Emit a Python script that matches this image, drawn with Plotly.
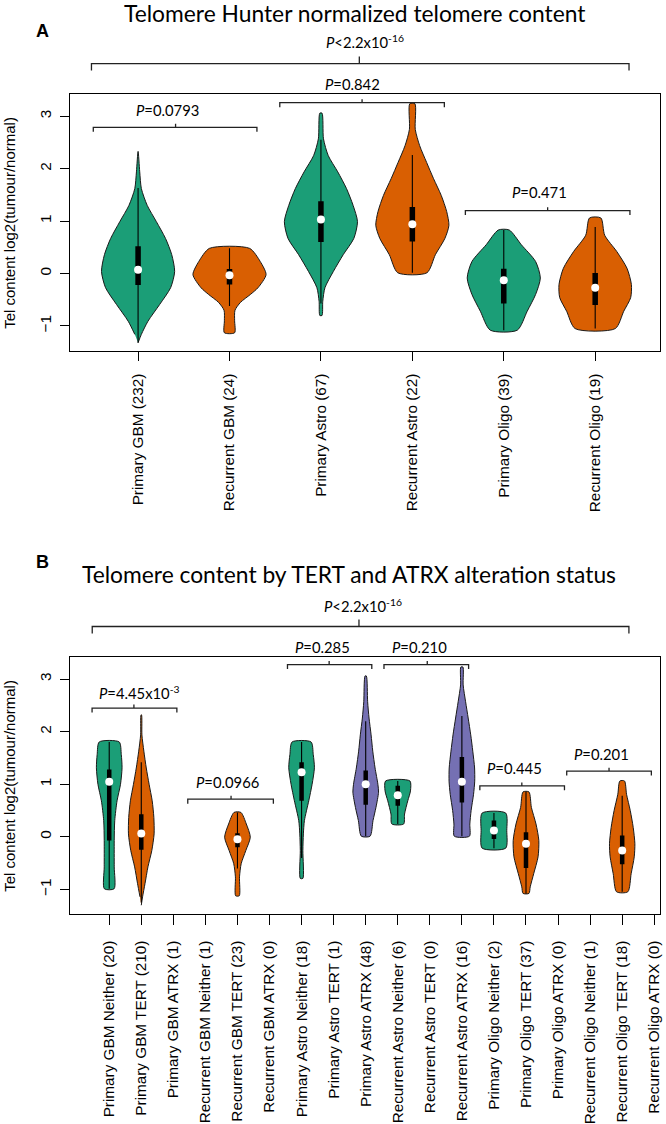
import plotly.graph_objects as go

# page is 666x1124; the body margin is removed in the page (see write_html below)
W, H = 666, 1124

# ---------------- Panel A data ----------------
A_labels = ["Primary GBM (232)", "Recurrent GBM (24)", "Primary Astro (67)",
            "Recurrent Astro (22)", "Primary Oligo (39)", "Recurrent Oligo (19)"]
A_group = ["Primary", "Recurrent", "Primary", "Recurrent", "Primary", "Recurrent"]
# density outline: value levels (bottom -> top) and relative density at each level
A_dens_y = [
    [-1.32, -1.16, -0.91, -0.59, -0.27, 0.04, 0.36, 0.67, 0.99, 1.30, 1.62, 1.94, 2.33],
    [-1.13, -0.90, -0.70, -0.55, -0.40, -0.27, -0.02, 0.23, 0.48],
    [-0.80, -0.53, -0.27, 0.04, 0.36, 0.67, 0.99, 1.30, 1.62, 1.94, 2.25, 2.57, 3.06],
    [0.015, 0.36, 0.67, 0.92, 1.18, 1.49, 1.81, 2.12, 2.44, 2.75, 3.24],
    [-1.08, -0.72, -0.40, -0.085, 0.23, 0.55, 0.83],
    [-1.05, -0.72, -0.46, -0.21, 0.10, 0.42, 0.73, 1.06],
]
A_dens_w = [
    [0, 0.09, 0.27, 0.59, 0.89, 1.0, 0.92, 0.75, 0.50, 0.25, 0.09, 0.045, 0],
    [0.14, 0.14, 0.15, 0.30, 0.57, 0.78, 1.0, 0.84, 0.55],
    [0.03, 0.05, 0.11, 0.34, 0.61, 0.90, 1.0, 0.88, 0.70, 0.46, 0.20, 0.07, 0.03],
    [0.40, 0.63, 0.89, 1.0, 0.94, 0.79, 0.58, 0.39, 0.20, 0.08, 0.07],
    [0.37, 0.64, 0.87, 1.0, 0.87, 0.48, 0.15],
    [0.55, 0.78, 0.97, 0.99, 0.87, 0.59, 0.26, 0.155],
]
A_q1 = [-0.22, -0.21, 0.60, 0.61, -0.57, -0.60]
A_med = [0.07, -0.035, 1.03, 0.94, -0.13, -0.27]
A_q3 = [0.52, 0.085, 1.38, 1.27, 0.09, 0.01]
A_wlo = [-1.32, -0.62, -0.57, 0.015, -1.08, -1.05]
A_whi = [1.63, 0.48, 2.55, 2.26, 0.83, 0.89]

A_p_text = ["<i>P</i>=0.0793", "<i>P</i>=0.842", "<i>P</i>=0.471",
            "<i>P</i>&lt;2.2x10<sup>-16</sup>"]
A_br_left = [0.51, 2.55, 4.58, 0.49]
A_br_right = [2.30, 4.35, 6.38, 6.37]
A_br_mid = [1.41, 3.45, 5.48, 3.42]
A_br_y = [2.79, 3.26, 1.20, 4.006]
A_txt_x = [1.32, 3.34, 5.39, 3.48]
A_txt_y = [3.12, 3.61, 1.557, 4.43]

# ---------------- Panel B data ----------------
B_labels = ["Primary GBM Neither (20)", "Primary GBM TERT (210)", "Primary GBM ATRX (1)",
            "Recurrent GBM Neither (1)", "Recurrent GBM TERT (23)", "Recurrent GBM ATRX (0)",
            "Primary Astro Neither (18)", "Primary Astro TERT (1)", "Primary Astro ATRX (48)",
            "Recurrent Astro Neither (6)", "Recurrent Astro TERT (0)", "Recurrent Astro ATRX (16)",
            "Primary Oligo Neither (2)", "Primary Oligo TERT (37)", "Primary Oligo ATRX (0)",
            "Recurrent Oligo Neither (1)", "Recurrent Oligo TERT (18)", "Recurrent Oligo ATRX (0)"]
B_group = ["Neither", "TERT", "ATRX"] * 6
B_dens_y = [
    [-0.987, -0.57, -0.07, 0.308, 0.686, 1.0, 1.314, 1.566, 1.805],
    [-1.30, -1.14, -0.89, -0.57, -0.26, 0.057, 0.37, 0.686, 1.0, 1.31, 1.63, 1.94, 2.32],
    [], [],
    [-1.12, -0.76, -0.51, -0.26, -0.006, 0.245, 0.465],
    [],
    [-0.79, -0.26, 0.057, 0.308, 0.686, 1.0, 1.314, 1.566, 1.805],
    [],
    [0.013, 0.31, 0.56, 0.85, 1.0, 1.31, 1.63, 1.94, 2.26, 2.57, 3.06],
    [0.245, 0.434, 0.686, 0.874, 1.063],
    [],
    [0.013, 0.245, 0.50, 0.81, 1.06, 1.31, 1.63, 1.94, 2.26, 2.57, 2.89, 3.23],
    [-0.214, 0.12, 0.453],
    [-1.075, -0.95, -0.70, -0.38, -0.07, 0.245, 0.56, 0.855],
    [], [],
    [-1.044, -0.70, -0.38, -0.13, 0.18, 0.50, 0.81, 1.063],
    [],
]
B_dens_w = [
    [0.38, 0.39, 0.39, 0.43, 0.61, 0.88, 1.0, 0.94, 0.78],
    [0, 0.10, 0.29, 0.52, 0.82, 1.0, 0.98, 0.85, 0.61, 0.39, 0.20, 0.05, 0.02],
    [], [],
    [0.14, 0.16, 0.29, 0.65, 1.0, 0.69, 0.27],
    [],
    [0.10, 0.10, 0.14, 0.22, 0.56, 0.82, 1.0, 0.91, 0.74],
    [],
    [0.34, 0.57, 0.80, 1.0, 0.95, 0.73, 0.55, 0.42, 0.26, 0.15, 0.05],
    [0.46, 0.53, 0.78, 0.99, 0.95],
    [],
    [0.59, 0.62, 0.72, 0.91, 1.0, 0.99, 0.85, 0.69, 0.49, 0.29, 0.10, 0.08],
    [0.92, 1.0, 0.92],
    [0.23, 0.33, 0.60, 0.94, 1.0, 0.78, 0.42, 0.23],
    [], [],
    [0.44, 0.70, 0.94, 0.99, 0.86, 0.63, 0.34, 0.18],
    [],
]
B_q1 = [-0.07, -0.245, None, None, -0.195, None, 0.686, None, 0.61, 0.59, None, 0.654,
        -0.04, -0.59, None, None, -0.52, None]
B_med = [1.05, 0.063, None, None, -0.044, None, 1.23, None, 1.0, 0.79, None, 1.05,
         0.12, -0.13, None, None, -0.26, None]
B_q3 = [1.28, 0.43, None, None, 0.07, None, 1.42, None, 1.26, 0.97, None, 1.52,
        0.31, 0.088, None, None, 0.025, None]
B_wlo = [-0.987, -1.25, None, None, -0.60, None, -0.40, None, 0.013, 0.245, None, 0.013,
         -0.214, -1.075, None, None, -1.044, None]
B_whi = [1.805, 1.42, None, None, 0.465, None, 1.805, None, 2.20, 1.063, None, 2.30,
         0.453, 0.855, None, None, 0.78, None]

B_p_text = ["<i>P</i>=4.45x10<sup>-3</sup>", "<i>P</i>=0.0966", "<i>P</i>=0.285",
            "<i>P</i>=0.210", "<i>P</i>=0.445", "<i>P</i>=0.201",
            "<i>P</i>&lt;2.2x10<sup>-16</sup>"]
B_br_left = [0.465, 3.45, 6.56, 9.57, 12.56, 15.27, 0.47]
B_br_right = [3.11, 6.12, 9.19, 12.21, 15.20, 17.91, 17.21]
B_br_mid = [1.77, 4.80, 7.86, 10.92, 13.87, 16.59, 8.79]
B_br_y = [2.45, 0.717, 3.277, 3.277, 0.97, 1.25, 4.0]
B_txt_x = [1.95, 4.69, 7.65, 10.68, 13.65, 16.36, 8.92]
B_txt_y = [2.75, 1.04, 3.61, 3.61, 1.315, 1.58, 4.40]

# ---------------- styling ----------------
COLORS = {"Primary": "#1b9e77", "Recurrent": "#d95f02",
          "Neither": "#1b9e77", "TERT": "#d95f02", "ATRX": "#7570b3"}
HALF_W = 0.4
TICK_FONT = dict(family="Liberation Sans, Arial, sans-serif", size=15.3, color="black")
ANNO_FONT = "Lato, Open Sans, sans-serif"


def px_x(px):
    return px / W


def px_y(py):
    return 1 - py / H


PANELS = {
    "A": dict(xref="x", yref="y", xrange=[0.253, 6.709], yrange=[-1.487, 3.419],
              ydom=[px_y(354), px_y(95)], box_w=5.5),
    "B": dict(xref="x2", yref="y2", xrange=[-0.23, 18.18], yrange=[-1.475, 3.415],
              ydom=[px_y(921), px_y(662)], box_w=4.5),
}
XDOM = [px_x(70), px_x(662)]


def to_paper(v, p):
    r, d = p["yrange"], p["ydom"]
    return d[0] + (v - r[0]) / (r[1] - r[0]) * (d[1] - d[0])


fig = go.Figure()
shapes, annos = [], []


def add_panel(key, labels, groups, dys, dws, q1, med, q3, wlo, whi,
              ptxt, bl, br, bm, by, tx, ty):
    p = PANELS[key]
    xa, ya = p["xref"], p["yref"]
    for i, lab in enumerate(labels):
        pos = i + 1
        yl, wl = dys[i], dws[i]
        if not yl:
            continue
        col = COLORS[groups[i]]
        xs = [pos + HALF_W * w for w in wl]
        ys = list(yl)
        for yv, w in zip(reversed(yl), reversed(wl)):
            if w == 0:
                continue
            xs.append(pos - HALF_W * w)
            ys.append(yv)
        if wl[0] != 0:
            xs.append(xs[0])
            ys.append(ys[0])
        fig.add_trace(go.Scatter(x=xs, y=ys, mode="lines", fill="toself", fillcolor=col,
                                 line=dict(color="#1a1a1a", width=1, shape="spline", smoothing=0.7),
                                 hoverinfo="skip", xaxis=xa, yaxis=ya))
        fig.add_trace(go.Scatter(x=[pos, pos], y=[wlo[i], whi[i]], mode="lines",
                                 line=dict(color="black", width=1.1),
                                 hoverinfo="skip", xaxis=xa, yaxis=ya))
        fig.add_trace(go.Scatter(x=[pos, pos], y=[q1[i], q3[i]], mode="lines",
                                 line=dict(color="black", width=p["box_w"]),
                                 hoverinfo="skip", xaxis=xa, yaxis=ya))
        fig.add_trace(go.Scatter(x=[pos], y=[med[i]], mode="markers",
                                 marker=dict(color="white", size=8, line=dict(width=0)),
                                 hoverinfo="skip", xaxis=xa, yaxis=ya))
    n = len(ptxt)
    for j in range(n):
        big = (j == n - 1)
        drop = (7.0 if big else 4.5) / H
        up = (7.0 if big else 3.5) / H
        yb = to_paper(by[j], p)
        path = (f"M {bl[j]},{yb - drop} L {bl[j]},{yb} L {br[j]},{yb} L {br[j]},{yb - drop} "
                f"M {bm[j]},{yb} L {bm[j]},{yb + up}")
        shapes.append(dict(type="path", path=path, xref=xa, yref="paper",
                           line=dict(color="#222222", width=1.3)))
        annos.append(dict(text=ptxt[j], x=tx[j], y=to_paper(ty[j], p), xref=xa, yref="paper",
                          showarrow=False, xanchor="center", yanchor="middle",
                          font=dict(family=ANNO_FONT, size=14.8, color="black")))


add_panel("A", A_labels, A_group, A_dens_y, A_dens_w, A_q1, A_med, A_q3, A_wlo, A_whi,
          A_p_text, A_br_left, A_br_right, A_br_mid, A_br_y, A_txt_x, A_txt_y)
add_panel("B", B_labels, B_group, B_dens_y, B_dens_w, B_q1, B_med, B_q3, B_wlo, B_whi,
          B_p_text, B_br_left, B_br_right, B_br_mid, B_br_y, B_txt_x, B_txt_y)

# titles, panel letters, y titles
annos += [
    dict(text="Telomere Hunter normalized telomere content", x=px_x(356), y=px_y(13),
         xref="paper", yref="paper", showarrow=False, xanchor="center", yanchor="middle",
         font=dict(family=ANNO_FONT, size=22.8, color="black")),
    dict(text="Telomere content by TERT and ATRX alteration status", x=px_x(350), y=px_y(578),
         xref="paper", yref="paper", showarrow=False, xanchor="center", yanchor="middle",
         font=dict(family=ANNO_FONT, size=22.8, color="black")),
    dict(text="<b>A</b>", x=px_x(43), y=px_y(31), xref="paper", yref="paper", showarrow=False,
         xanchor="center", yanchor="middle",
         font=dict(family="Liberation Sans, Arial", size=18, color="black")),
    dict(text="<b>B</b>", x=px_x(43), y=px_y(566), xref="paper", yref="paper", showarrow=False,
         xanchor="center", yanchor="middle",
         font=dict(family="Liberation Sans, Arial", size=18, color="black")),
]
for key in ["A", "B"]:
    d = PANELS[key]["ydom"]
    annos.append(dict(text="Tel content log2(tumour/normal)", x=px_x(10), y=(d[0] + d[1]) / 2,
                      xref="paper", yref="paper", showarrow=False, textangle=-90,
                      xanchor="center", yanchor="middle",
                      font=dict(family="Liberation Sans, Arial", size=15, color="black")))

axis_common = dict(showline=True, mirror=True, linecolor="black", linewidth=1,
                   showgrid=False, zeroline=False, ticks="outside", tickcolor="black",
                   tickwidth=1, tickfont=TICK_FONT, fixedrange=True,
                   ticklabeloverflow="allow")

fig.update_layout(
    width=W, height=H, margin=dict(l=0, r=0, t=0, b=0),
    paper_bgcolor="white", plot_bgcolor="white", showlegend=False,
    xaxis=dict(domain=XDOM, range=PANELS["A"]["xrange"], anchor="y",
               tickvals=list(range(1, len(A_labels) + 1)), ticktext=A_labels,
               tickangle=-90, ticklen=9, ticklabelstandoff=6, **axis_common),
    yaxis=dict(domain=PANELS["A"]["ydom"], range=PANELS["A"]["yrange"], anchor="x",
               tickvals=[-1, 0, 1, 2, 3], tickangle=-90, ticklen=9, ticklabelstandoff=3,
               **axis_common),
    xaxis2=dict(domain=XDOM, range=PANELS["B"]["xrange"], anchor="y2",
                tickvals=list(range(1, len(B_labels) + 1)), ticktext=B_labels,
                tickangle=-90, ticklen=10, ticklabelstandoff=9, **axis_common),
    yaxis2=dict(domain=PANELS["B"]["ydom"], range=PANELS["B"]["yrange"], anchor="x2",
                tickvals=[-1, 0, 1, 2, 3], tickangle=-90, ticklen=9, ticklabelstandoff=3,
                **axis_common),
    shapes=shapes, annotations=annos,
)

# remove the default 8px body margin so the 666x1124 figure fills the window
fig.write_html("out.html", config={"displayModeBar": False},
               post_script="document.body.style.margin='0';")
